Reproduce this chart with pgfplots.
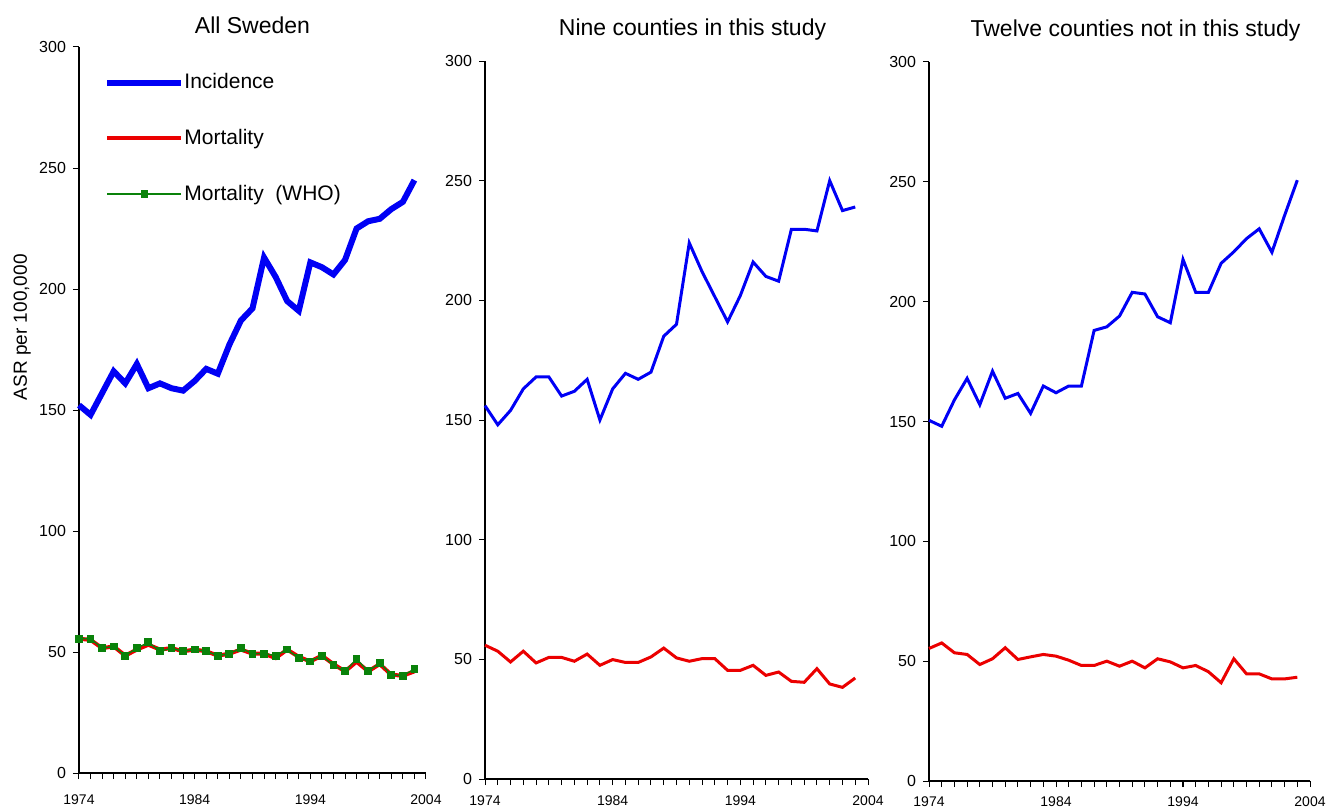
\documentclass[border=0pt]{standalone}
\usepackage{fontspec}
\setmainfont{Liberation Sans}
\usepackage{pgfplots}
\pgfplotsset{compat=1.18}
\usepackage{pgfplotstable}

\definecolor{incblue}{RGB}{0,0,245}
\definecolor{mortred}{RGB}{235,0,0}
\definecolor{whogreen}{RGB}{10,130,10}

% year, incidence, mortality, mortality (WHO)
\pgfplotstableread{
year inc mort who
1974 152 55.5 55.5
1975 148 55.0 55.5
1976 157 51.6 51.6
1977 166 52.3 52.3
1978 161 48.5 48.5
1979 169 51.0 51.6
1980 159 53.0 54.0
1981 161 51.0 50.3
1982 159 51.6 51.6
1983 158 50.3 50.3
1984 162 51.0 51.0
1985 167 50.3 50.3
1986 165 48.5 48.5
1987 177 49.3 49.3
1988 187 51.0 51.6
1989 192 49.3 49.3
1990 213 49.3 49.3
1991 205 47.5 48.5
1992 195 51.0 51.0
1993 191 48.0 47.5
1994 211 46.1 46.1
1995 209 48.5 48.5
1996 206 45.0 44.5
1997 212 42.0 42.0
1998 225 46.0 47.1
1999 228 42.0 42.0
2000 229 45.0 45.5
2001 233 40.6 40.6
2002 236 40.2 40.2
2003 245 42.0 43.0
}\sweden

\pgfplotstableread{
year inc mort
1974 156 55.9
1975 148 53.4
1976 154 48.9
1977 163 53.4
1978 168 48.5
1979 168 50.8
1980 160 50.8
1981 162 49.2
1982 167 52.2
1983 150 47.5
1984 163 49.9
1985 169.5 48.7
1986 167 48.7
1987 170 51.0
1988 185 54.7
1989 190 50.6
1990 224 49.2
1991 212 50.3
1992 201.5 50.3
1993 191 45.4
1994 202 45.4
1995 216 47.5
1996 210 43.3
1997 208 44.7
1998 229.7 40.8
1999 229.7 40.4
2000 229 46.1
2001 250 39.7
2002 237.5 38.3
2003 239 42.2
}\nine

\pgfplotstableread{
year inc mort
1974 150.5 55.3
1975 148 57.6
1976 159 53.5
1977 168 52.8
1978 157 48.6
1979 171 51.0
1980 159.7 55.6
1981 161.7 50.7
1982 153.4 51.8
1983 164.8 52.8
1984 162 52.1
1985 164.8 50.4
1986 164.8 48.2
1987 188 48.2
1988 189.5 50.0
1989 194 47.9
1990 203.9 50.0
1991 203.2 47.2
1992 193.7 51.0
1993 191.2 49.7
1994 217.6 47.2
1995 203.9 48.2
1996 203.9 45.6
1997 216 41.0
1998 220.8 51.0
1999 226.3 44.7
2000 230.4 44.7
2001 220.6 42.6
2002 236 42.6
2003 250.7 43.3
}\twelve

\pgfplotsset{
  panel/.style={
    scale only axis,
    anchor=north west,
    xmin=1974, xmax=2004, ymin=0, ymax=300,
    axis x line=bottom, axis y line=left,
    axis line style={-, black, line width=0.6pt},
    xtick={1974,1984,1994,2004},
    minor xtick={1975,...,2003},
    ytick={0,50,...,300},
    tick align=outside,
    major tick length=3pt, minor tick length=3pt,
    every tick/.style={black, line width=0.5pt},
    /pgf/number format/assume math mode=true,
    xticklabel style={/pgf/number format/1000 sep={}, font=\fontsize{7}{8}\selectfont},
    yticklabel style={font=\fontsize{8}{9}\selectfont},
    title style={font=\fontsize{11.5}{13}\selectfont, anchor=center, at={(0.5,1)}},
    clip=false,
  },
}

\begin{document}
\begin{tikzpicture}
\useasboundingbox (0,0) rectangle (668.5pt,-404pt);

% All Sweden
\begin{axis}[panel,
  at={(39.5pt,-23.5pt)}, width=173.5pt, height=363pt,
  xticklabel style={yshift=-4.5pt},
  title={All Sweden}, title style={yshift=5pt},
  ylabel={ASR per 100,000},
  every axis y label/.style={at={(axis description cs:-0.164,0.614)}, rotate=90, anchor=center, font=\fontsize{9.5}{11}\selectfont},
  legend image code/.code={\draw[mark repeat=2,mark phase=2,#1] plot coordinates {(0pt,0pt) (18.5pt,0pt) (37pt,0pt)};},
  legend style={draw=none, fill=none, at={(0.055,0.975)}, anchor=north west,
    row sep=14.75pt, font=\fontsize{10.5}{12}\selectfont, nodes={inner xsep=0pt}},
  legend cell align=left,
]
\addplot[incblue, line width=3pt] table[x=year, y=inc] {\sweden};
\addlegendentry{Incidence}
\addplot[mortred, line width=2pt] table[x=year, y=mort] {\sweden};
\addlegendentry{Mortality}
\addplot[whogreen, line width=0.7pt, mark=square*, mark size=1.6pt] table[x=year, y=who] {\sweden};
\addlegendentry{Mortality\ \ (WHO)}
\end{axis}

% Nine counties
\begin{axis}[panel,
  at={(242.5pt,-30.5pt)}, width=191.5pt, height=359pt,
  xticklabel style={yshift=-1.8pt},
  title={Nine counties in this study}, title style={yshift=9.5pt, xshift=8pt},
]
\addplot[incblue, line width=1.5pt] table[x=year, y=inc] {\nine};
\addplot[mortred, line width=1.5pt] table[x=year, y=mort] {\nine};
\end{axis}

% Twelve counties
\begin{axis}[panel,
  at={(464.5pt,-31pt)}, width=190.5pt, height=359.5pt,
  xticklabel style={yshift=-1.5pt},
  title={Twelve counties not in this study}, title style={yshift=9.5pt, xshift=8pt},
]
\addplot[incblue, line width=1.5pt] table[x=year, y=inc] {\twelve};
\addplot[mortred, line width=1.5pt] table[x=year, y=mort] {\twelve};
\end{axis}
\end{tikzpicture}
\end{document}
